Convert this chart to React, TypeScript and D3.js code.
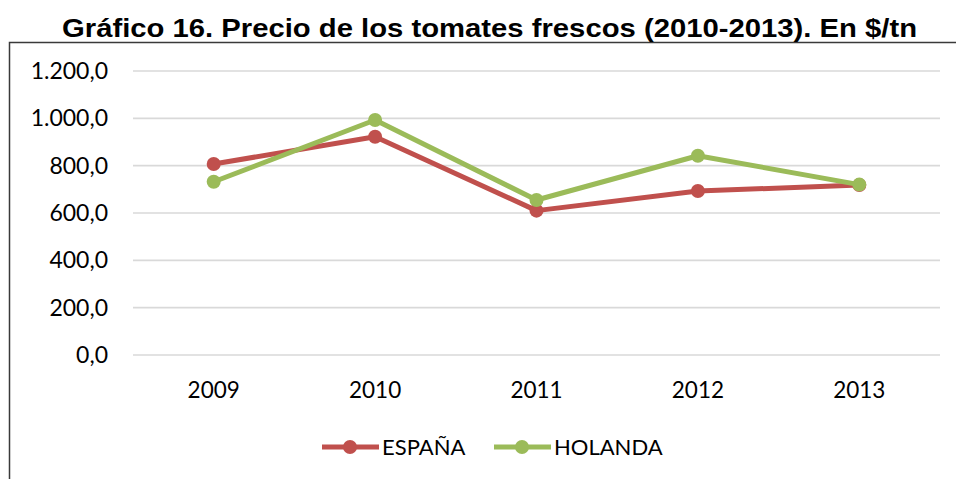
import React, { useEffect, useRef } from 'react'
import * as d3 from 'd3'

const title = 'Gráfico 16. Precio de los tomates frescos (2010-2013). En $/tn'
const years = ['2009', '2010', '2011', '2012', '2013']
const espana = [807, 922, 610, 693, 718]
const holanda = [732, 993, 655, 842, 720]
const yTicks = [0, 200, 400, 600, 800, 1000, 1200]

const series = [
  { name: 'ESPAÑA', values: espana, color: '#c0504d' },
  { name: 'HOLANDA', values: holanda, color: '#9bbb59' },
]

const W = 956
const H = 479

const fmt = (v: number) =>
  v.toLocaleString('de-DE', { minimumFractionDigits: 1, maximumFractionDigits: 1 })

const App: React.FC = () => {
  const svgRef = useRef<SVGSVGElement>(null)

  useEffect(() => {
    if (!svgRef.current) return
    const svg = d3.select(svgRef.current)
    svg.selectAll('*').remove()

    const font = 'Lato, "Open Sans", sans-serif'
    const margin = { top: 71, right: 16, bottom: 124, left: 133 }
    const width = W - margin.left - margin.right
    const height = H - margin.top - margin.bottom

    svg.append('rect').attr('width', W).attr('height', H).attr('fill', '#fff')

    // frame (only top and left edges are visible in the crop)
    svg.append('path')
      .attr('d', `M9.5,${H} V42.5 H${W}`)
      .attr('fill', 'none')
      .attr('stroke', '#3a3a3a')
      .attr('stroke-width', 1.5)

    // title is wider in the original than Arial bold at its height, so stretch it
    svg.append('text')
      .attr('x', 62)
      .attr('y', 37)
      .attr('textLength', 855)
      .attr('lengthAdjust', 'spacingAndGlyphs')
      .style('font-family', '"Liberation Sans", Arial, sans-serif')
      .style('font-weight', 'bold')
      .style('font-size', '25.5px')
      .attr('fill', '#000')
      .text(title)

    const g = svg.append('g').attr('transform', `translate(${margin.left},${margin.top})`)

    const x = d3.scaleBand().domain(years).range([0, width])
    const y = d3.scaleLinear().domain([0, 1200]).range([height, 0])

    // grid
    g.append('g')
      .selectAll('line')
      .data(yTicks)
      .join('line')
      .attr('x1', 0)
      .attr('x2', width)
      .attr('y1', d => y(d))
      .attr('y2', d => y(d))
      .attr('stroke', '#d9d9d9')
      .attr('stroke-width', 1.6)

    // y labels
    g.append('g')
      .selectAll('text')
      .data(yTicks)
      .join('text')
      .attr('x', -25)
      .attr('y', d => y(d))
      .attr('dy', '0.35em')
      .attr('text-anchor', 'end')
      .style('font-family', font)
      .style('font-size', '23px')
      .attr('fill', '#000')
      .text(d => fmt(d))

    // x labels
    g.append('g')
      .selectAll('text')
      .data(years)
      .join('text')
      .attr('x', d => (x(d) as number) + x.bandwidth() / 2)
      .attr('y', height + 43)
      .attr('text-anchor', 'middle')
      .style('font-family', font)
      .style('font-size', '22.5px')
      .attr('fill', '#000')
      .text(d => d)

    const line = d3.line<number>()
      .x((_, i) => (x(years[i]) as number) + x.bandwidth() / 2)
      .y(d => y(d))

    series.forEach(s => {
      g.append('path')
        .datum(s.values)
        .attr('fill', 'none')
        .attr('stroke', s.color)
        .attr('stroke-width', 5)
        .attr('stroke-linejoin', 'round')
        .attr('d', line)
      g.append('g')
        .selectAll('circle')
        .data(s.values)
        .join('circle')
        .attr('cx', (_, i) => (x(years[i]) as number) + x.bandwidth() / 2)
        .attr('cy', d => y(d))
        .attr('r', 7)
        .attr('fill', s.color)
    })

    // legend
    const legendY = 447
    const legendX = [322, 494]
    series.forEach((s, i) => {
      const lg = svg.append('g').attr('transform', `translate(${legendX[i]},${legendY})`)
      lg.append('line')
        .attr('x1', 0).attr('x2', 57)
        .attr('stroke', s.color)
        .attr('stroke-width', 5)
      lg.append('circle').attr('cx', 28).attr('r', 7).attr('fill', s.color)
      lg.append('text')
        .attr('x', 60)
        .attr('dy', '0.35em')
        .style('font-family', font)
        .style('font-size', '22px')
        .attr('fill', '#000')
        .text(s.name)
    })
  }, [])

  return (
    <div style={{ position: 'absolute', left: 0, top: 0 }}>
      <svg ref={svgRef} width={W} height={H} style={{ display: 'block' }} />
    </div>
  )
}

export default App
